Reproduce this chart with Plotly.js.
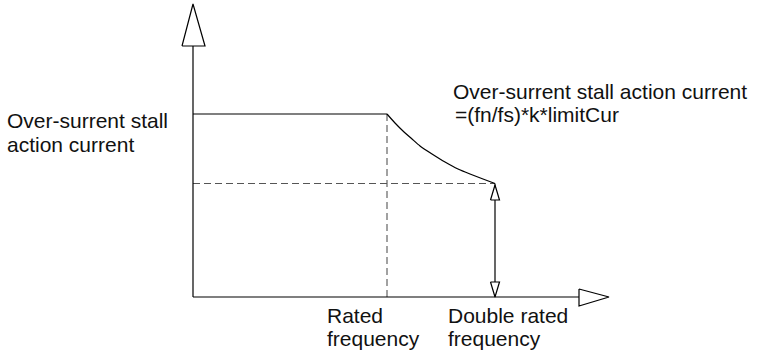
<!DOCTYPE html>
<html>
<head>
<meta charset="utf-8">
<script src="https://cdn.plot.ly/plotly-3.0.1.min.js"></script>
<style>html,body{margin:0;padding:0;background:#fff;}#chart{width:757px;height:353px;}</style>
</head>
<body>
<div id="chart"></div>
<script>
// Schematic units (origin at the axes corner)
const ratedFreq = 194;          // rated frequency
const doubleFreq = 302;         // double rated frequency
const limitCurrent = 183;       // over-current stall action current
const endCurrent = 113.5;       // current at double rated frequency
const curveFreq = [194, 202, 210, 219, 227, 239, 252, 265, 277, 290, 302];
const curveCurrent = [183, 174, 166, 158, 151, 143, 135, 128, 123, 118, 113.5];
const xAxisEnd = 386;
const yAxisEnd = 251;
const yLabelLines = ["Over-surrent stall", "action current"];
const formulaLines = ["Over-surrent stall action current", "=(fn/fs)*k*limitCur"];
const freqLabelLines = [["Rated", "frequency"], ["Double rated", "frequency"]];

const black = "#000";
const FONT = {family: "Arial, 'Liberation Sans', sans-serif", size: 21, color: "#111"};
const solid = {color: black, width: 1.2};
const dashed = {color: "#555", width: 1.1, dash: "7px,4px"};

function line(x, y, l, extra) {
  return Object.assign({type: "scatter", mode: "lines", x: x, y: y, line: l, hoverinfo: "skip"}, extra || {});
}
function tri(x, y) {
  return line(x, y, {color: black, width: 1.2}, {fill: "toself", fillcolor: "#fff"});
}

const traces = [
  // dashed guides
  line([0, doubleFreq], [endCurrent, endCurrent], dashed),
  line([ratedFreq, ratedFreq], [0, limitCurrent], dashed),
  // axes
  line([0, 0], [0, yAxisEnd], solid),
  line([0, xAxisEnd], [0, 0], solid),
  // flat part + curve
  line([0, ratedFreq], [limitCurrent, limitCurrent], solid),
  line(curveFreq, curveCurrent, {color: black, width: 1.2, shape: "spline", smoothing: 0.6}),
  // double arrow shaft
  line([doubleFreq, doubleFreq], [0, endCurrent], solid),
  // arrowheads (hollow)
  tri([-11, 0, 12, -11], [yAxisEnd, yAxisEnd + 42, yAxisEnd, yAxisEnd]),
  tri([xAxisEnd, xAxisEnd + 30, xAxisEnd, xAxisEnd], [8, 0, -9, 8]),
  tri([doubleFreq - 4.5, doubleFreq, doubleFreq + 4.5, doubleFreq - 4.5], [endCurrent - 16.5, endCurrent - 1.5, endCurrent - 16.5, endCurrent - 16.5]),
  tri([doubleFreq - 4.5, doubleFreq, doubleFreq + 4.5, doubleFreq - 4.5], [15, 0, 15, 15])
];

function ann(text, x, y) {
  return {text: text, x: x, y: y, xref: "x", yref: "y", showarrow: false,
          xanchor: "left", yanchor: "middle", font: FONT, borderpad: 0};
}
const annotations = [
  ann(yLabelLines[0], -187, limitCurrent - 6),
  ann(yLabelLines[1], -187, limitCurrent - 30),
  ann(formulaLines[0], 259, limitCurrent + 23),
  ann(formulaLines[1], 261, limitCurrent),
  ann(freqLabelLines[0][0], ratedFreq - 61, -18),
  ann(freqLabelLines[0][1], ratedFreq - 61, -41),
  ann(freqLabelLines[1][0], doubleFreq - 48, -18),
  ann(freqLabelLines[1][1], doubleFreq - 48, -41)
];

const layout = {
  width: 757, height: 353,
  margin: {l: 0, r: 0, t: 0, b: 0, pad: 0},
  paper_bgcolor: "#fff", plot_bgcolor: "#fff",
  showlegend: false,
  xaxis: {range: [-193, 564], visible: false, fixedrange: true},
  yaxis: {range: [-56, 297], visible: false, fixedrange: true},
  annotations: annotations
};

Plotly.newPlot("chart", traces, layout, {staticPlot: true, displayModeBar: false});
</script>
</body>
</html>
